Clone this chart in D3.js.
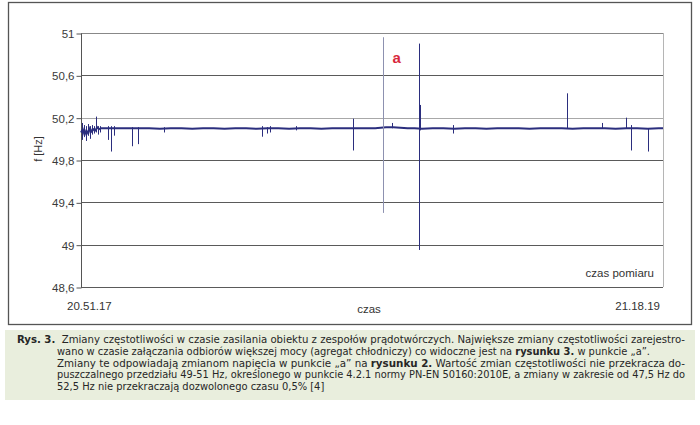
<!DOCTYPE html>
<html>
<head>
<meta charset="utf-8">
<script src="https://cdn.jsdelivr.net/npm/d3@7"></script>
<style>
  html, body { margin: 0; padding: 0; background: #fff; }
  svg { display: block; }
</style>
</head>
<body>
<svg id="chart" width="700" height="425"></svg>
<script>
// ---------------- DATA ----------------
const timeLabels = ["20.51.17", "21.18.19"];
const durationSec = 1622;               // 20:51:17 -> 21:18:19
const yTicks = [48.6, 49, 49.4, 49.8, 50.2, 50.6, 51];
const yTickLabels = ["48,6", "49", "49,4", "49,8", "50,2", "50,6", "51"];

// main trace (seconds from start, Hz)
const baseTimes = [0, 5, 10, 15, 20, 25, 30, 35, 40, 45, 50, 55, 65, 80, 100, 120, 140, 160, 190, 220,
  250, 280, 310, 340, 370, 400, 430, 460, 490, 520, 550, 580, 610, 640, 670, 700, 730, 760, 790, 820,
  850, 870, 890, 910, 930, 950, 980, 1010, 1040, 1070, 1100, 1130, 1160, 1190, 1220, 1250, 1280, 1310,
  1340, 1370, 1400, 1430, 1460, 1490, 1520, 1550, 1580, 1610, 1622];
const baseValues = [50.06, 50.09, 50.04, 50.08, 50.05, 50.10, 50.07, 50.09, 50.08, 50.11, 50.09, 50.10,
  50.10, 50.10, 50.10, 50.10, 50.10, 50.10, 50.10, 50.095, 50.10, 50.10, 50.095, 50.10, 50.10, 50.095,
  50.10, 50.10, 50.095, 50.10, 50.10, 50.095, 50.10, 50.10, 50.095, 50.10, 50.10, 50.10, 50.10, 50.10,
  50.11, 50.11, 50.105, 50.10, 50.10, 50.095, 50.10, 50.10, 50.095, 50.10, 50.10, 50.095, 50.10, 50.10,
  50.10, 50.095, 50.10, 50.10, 50.10, 50.095, 50.10, 50.10, 50.10, 50.095, 50.10, 50.10, 50.095, 50.10, 50.10];

// short excursions (seconds, min Hz, max Hz)
const spikeTimes = [3, 8, 14, 20, 25, 31, 36, 42, 47, 53, 75, 83, 92, 141, 159, 230, 504, 518, 527, 600,
  757, 842, 867, 942, 945, 1037, 1354, 1452, 1519, 1533, 1580];
const spikeLow = [49.99, 50.02, 49.98, 50.03, 50.00, 50.04, 50.05, 50.06, 50.04, 50.06, 49.99, 49.88, 50.03,
  49.93, 49.95, 50.06, 50.02, 50.05, 50.06, 50.08, 49.89, 49.30, 50.10, 48.95, 50.08, 50.05, 50.10, 50.10,
  50.10, 49.89, 49.88];
const spikeHigh = [50.15, 50.13, 50.12, 50.14, 50.12, 50.13, 50.12, 50.21, 50.12, 50.12, 50.12, 50.12, 50.12,
  50.11, 50.11, 50.11, 50.12, 50.11, 50.12, 50.12, 50.19, 50.96, 50.15, 50.90, 50.32, 50.13, 50.43, 50.15,
  50.20, 50.13, 50.10];
const precursorSpike = 842;   // spike drawn lighter in the original

const annotationText = "a";
const annotationTime = 880;
const annotationValue = 50.72;

const axisTitleY = "f [Hz]";
const axisTitleX = "czas";
const seriesNote = "czas pomiaru";

const captionLines = [
  [["Rys. 3.", true], ["  Zmiany częstotliwości w czasie zasilania obiektu z zespołów prądotwórczych. Największe zmiany częstotliwości zarejestro-", false]],
  [["wano w czasie załączania odbiorów większej mocy (agregat chłodniczy) co widoczne jest na ", false], ["rysunku 3.", true], [" w punkcie „a”.", false]],
  [["Zmiany te odpowiadają zmianom napięcia w punkcie „a” na ", false], ["rysunku 2.", true], [" Wartość zmian częstotliwości nie przekracza do-", false]],
  [["puszczalnego przedziału 49-51 Hz, określonego w punkcie 4.2.1 normy PN-EN 50160:2010E, a zmiany w zakresie od 47,5 Hz do", false]],
  [["52,5 Hz nie przekraczają dozwolonego czasu 0,5% [4]", false]]
];

// ---------------- DRAW ----------------
const svg = d3.select("#chart");
const plot = {left: 81, right: 663, top: 33, bottom: 287};
const x = d3.scaleLinear().domain([0, durationSec]).range([plot.left, plot.right]);
const y = d3.scaleLinear().domain([48.6, 51]).range([plot.bottom, plot.top]);
const axisFont = "'Liberation Sans', Arial, sans-serif";

// outer frame
svg.append("rect").attr("x", 8.5).attr("y", 2.5).attr("width", 683).attr("height", 322)
  .attr("fill", "#fff").attr("stroke", "#555").attr("stroke-width", 1.3);

// plot right border
svg.append("line").attr("x1", plot.right + 0.5).attr("x2", plot.right + 0.5)
  .attr("y1", plot.top).attr("y2", plot.bottom).attr("stroke", "#b5b5b5").attr("stroke-width", 1);

// gridlines
svg.append("g").selectAll("line").data(yTicks).join("line")
  .attr("x1", plot.left).attr("x2", plot.right)
  .attr("y1", d => Math.round(y(d)) + 0.5).attr("y2", d => Math.round(y(d)) + 0.5)
  .attr("stroke", d => d === 50.2 ? "#a8a8a8" : (d === 51 ? "#888" : "#5a5a5a"))
  .attr("stroke-width", 1);

// y axis
const yAxis = d3.axisLeft(y).tickValues(yTicks)
  .tickFormat((d, i) => yTickLabels[i]).tickSize(5).tickPadding(2);
const gy = svg.append("g").attr("transform", `translate(${plot.left + 0.5},0.5)`).call(yAxis);
gy.select(".domain").attr("stroke", "#555").attr("d", `M0,${plot.top}V${plot.bottom}`);
gy.selectAll(".tick line").attr("stroke", "#555");
gy.selectAll(".tick text").attr("fill", "#3a3a3a").attr("font-size", 11.5)
  .attr("font-family", axisFont).attr("dy", "0.34em");

// y title
svg.append("text").attr("transform", `translate(42,149) rotate(-90)`)
  .attr("text-anchor", "middle").attr("font-family", axisFont).attr("font-size", 11)
  .attr("fill", "#333").text(axisTitleY);

// main trace
const base = baseTimes.map((t, i) => [t, baseValues[i]]);
svg.append("path").datum(base)
  .attr("d", d3.line().x(d => x(d[0])).y(d => y(d[1])))
  .attr("fill", "none").attr("stroke", "#2b2e7e").attr("stroke-width", 2);

// spikes
const spikes = spikeTimes.map((t, i) => ({t, lo: spikeLow[i], hi: spikeHigh[i]}));
svg.append("g").selectAll("line").data(spikes).join("line")
  .attr("x1", d => Math.round(x(d.t)) + 0.5).attr("x2", d => Math.round(x(d.t)) + 0.5)
  .attr("y1", d => y(d.hi)).attr("y2", d => y(d.lo))
  .attr("stroke", d => d.t === precursorSpike ? "#8d91b0" : "#2b2e7e")
  .attr("stroke-width", 1);

// annotation
svg.append("text").attr("x", x(annotationTime)).attr("y", y(annotationValue))
  .attr("text-anchor", "middle").attr("font-family", axisFont).attr("font-weight", "bold")
  .attr("font-size", 15).attr("fill", "#d8283c").text(annotationText);

// note
svg.append("text").attr("x", plot.right - 9).attr("y", 277).attr("text-anchor", "end")
  .attr("font-family", axisFont).attr("font-size", 11.5).attr("fill", "#333").text(seriesNote);

// x labels
svg.append("text").attr("x", x(0) - 14).attr("y", 310).attr("font-family", axisFont)
  .attr("font-size", 11.5).attr("fill", "#333").text(timeLabels[0]);
svg.append("text").attr("x", x(durationSec) - 3).attr("y", 310).attr("text-anchor", "end")
  .attr("font-family", axisFont).attr("font-size", 11.5).attr("fill", "#333").text(timeLabels[1]);
svg.append("text").attr("x", x(durationSec / 2) - 3).attr("y", 313).attr("text-anchor", "middle")
  .attr("font-family", axisFont).attr("font-size", 11.5).attr("fill", "#333").text(axisTitleX);

// caption
svg.append("rect").attr("x", 5).attr("y", 330).attr("width", 690).attr("height", 70).attr("fill", "#e9eedd");
const capFont = "'Liberation Sans Narrow', 'DejaVu Sans Condensed', 'Roboto', sans-serif";
const capX = [17, 57, 57, 57, 57];
const capW = [668, 593, 628, 628, null];
captionLines.forEach((parts, i) => {
  const t = svg.append("text").attr("x", capX[i]).attr("y", 343 + i * 11.8)
    .attr("font-family", capFont).attr("font-size", 11).attr("fill", "#262626")
    .attr("font-stretch", "condensed").attr("xml:space", "preserve");
  parts.forEach(([s, b]) => t.append("tspan").attr("font-weight", b ? "bold" : "normal").text(s));
  if (capW[i]) t.attr("textLength", capW[i]).attr("lengthAdjust", "spacingAndGlyphs");
});
</script>
</body>
</html>
